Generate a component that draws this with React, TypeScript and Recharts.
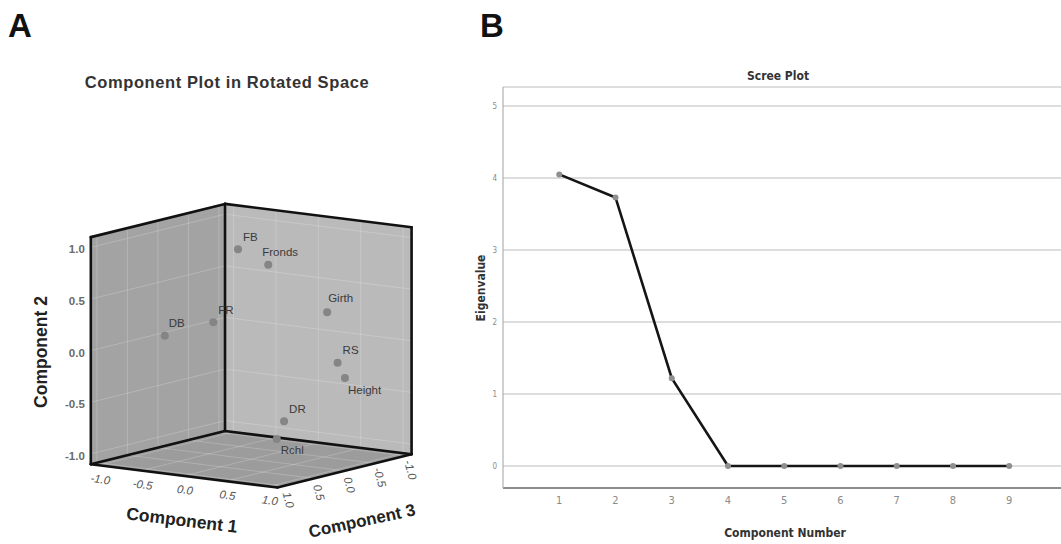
import React from 'react';
import {
  ComposedChart,
  Scatter,
  XAxis,
  YAxis,
  ReferenceArea,
  ReferenceLine,
  LineChart,
  Line,
  CartesianGrid,
} from 'recharts';

// ---------- Panel A data: rotated component loadings ----------
const variables = ['FB', 'Fronds', 'Girth', 'RS', 'Height', 'DR', 'Rchl', 'FR', 'DB'];
const component1 = [0.01, 0.41, 0.91, 0.99, 0.94, 0.69, 0.51, 0.2, -0.99];
const component2 = [0.97, 0.87, 0.42, -0.07, -0.25, -0.6, -0.81, 0.38, 0.0];
const component3 = [0.23, 0.29, 0.02, -0.04, -0.23, 0.42, 0.29, 0.9, 0.04];

const cubeTicks = [-1.0, -0.5, 0.0, 0.5, 1.0];
const cubeTickLabels = ['-1.0', '-0.5', '0.0', '0.5', '1.0'];

// ---------- Panel B data: scree plot ----------
const componentNumbers = [1, 2, 3, 4, 5, 6, 7, 8, 9];
const eigenvalues = [4.05, 3.73, 1.22, 0, 0, 0, 0, 0, 0];
const screeYTicks = [0, 1, 2, 3, 4, 5];

// ---------- view (oblique projection) ----------
const BOX = 1.1;
const E1 = [0.848, -0.106];
const E2 = [0, 1.032];
const E3 = [-0.61, -0.151];
const project = (c1: number, c2: number, c3: number) => ({
  u: c1 * E1[0] + c2 * E2[0] + c3 * E3[0],
  v: c1 * E1[1] + c2 * E2[1] + c3 * E3[1],
});

const labelPlacement: Record<string, { dx: number; dy: number }> = {
  FB: { dx: 5, dy: -12 },
  Fronds: { dx: -6, dy: -13 },
  Girth: { dx: 1, dy: -14 },
  RS: { dx: 5, dy: -13 },
  Height: { dx: 3, dy: 12 },
  DR: { dx: 5, dy: -12 },
  Rchl: { dx: 4, dy: 11 },
  FR: { dx: 5, dy: -12 },
  DB: { dx: 4, dy: -13 },
};

const pointData = variables.map((name, i) => ({
  name,
  ...project(component1[i], component2[i], component3[i]),
}));

const tickData = [
  ...cubeTicks.map((t, i) => ({ axis: 'c1', label: cubeTickLabels[i], ...project(t, -BOX, BOX) })),
  ...cubeTicks.map((t, i) => ({ axis: 'c2', label: cubeTickLabels[i], ...project(-BOX, t, BOX) })),
  ...cubeTicks.map((t, i) => ({ axis: 'c3', label: cubeTickLabels[i], ...project(BOX, -BOX, t) })),
];

const L = BOX;
const faces = [
  { key: 'left', fill: '#a3a3a3', corners: [[-L, -L, -L], [-L, -L, L], [-L, L, L], [-L, L, -L]] },
  { key: 'back', fill: '#bababa', corners: [[-L, -L, -L], [L, -L, -L], [L, L, -L], [-L, L, -L]] },
  { key: 'floor', fill: '#9c9c9c', corners: [[-L, -L, -L], [L, -L, -L], [L, -L, L], [-L, -L, L]] },
];

const edges: number[][][] = [
  [[-L, -L, L], [-L, L, L]],
  [[-L, L, L], [-L, L, -L]],
  [[-L, -L, -L], [-L, L, -L]],
  [[-L, L, -L], [L, L, -L]],
  [[L, -L, -L], [L, L, -L]],
  [[-L, -L, L], [L, -L, L]],
  [[L, -L, L], [L, -L, -L]],
  [[-L, -L, -L], [-L, -L, L]],
  [[-L, -L, -L], [L, -L, -L]],
];

const gridLines: number[][][] = [];
cubeTicks.forEach((t) => {
  // left wall (c1 = -L)
  gridLines.push([[-L, -L, t], [-L, L, t]]);
  gridLines.push([[-L, t, -L], [-L, t, L]]);
  // back wall (c3 = -L)
  gridLines.push([[t, -L, -L], [t, L, -L]]);
  gridLines.push([[-L, t, -L], [L, t, -L]]);
  // floor (c2 = -L)
  gridLines.push([[t, -L, -L], [t, -L, L]]);
  gridLines.push([[-L, -L, t], [L, -L, t]]);
});

const seg = (s: number[][]) => {
  const a = project(s[0][0], s[0][1], s[0][2]);
  const b = project(s[1][0], s[1][1], s[1][2]);
  return [
    { x: a.u, y: a.v },
    { x: b.u, y: b.v },
  ];
};

const faceShape = (corners: number[][], fill: string) => (props: any) => {
  const { x, y, width, height } = props;
  const pts = corners.map((c) => project(c[0], c[1], c[2]));
  const us = pts.map((p) => p.u);
  const vs = pts.map((p) => p.v);
  const u1 = Math.min(...us);
  const u2 = Math.max(...us);
  const v1 = Math.min(...vs);
  const v2 = Math.max(...vs);
  const str = pts
    .map((p) => `${x + ((p.u - u1) / (u2 - u1)) * width},${y + ((v2 - p.v) / (v2 - v1)) * height}`)
    .join(' ');
  return <polygon points={str} fill={fill} stroke="none" />;
};

const faceBox = (corners: number[][]) => {
  const pts = corners.map((c) => project(c[0], c[1], c[2]));
  return {
    x1: Math.min(...pts.map((p) => p.u)),
    x2: Math.max(...pts.map((p) => p.u)),
    y1: Math.min(...pts.map((p) => p.v)),
    y2: Math.max(...pts.map((p) => p.v)),
  };
};

const PointShape = (props: any) => {
  const { cx, cy, payload } = props;
  const lp = labelPlacement[payload.name] || { dx: 5, dy: -12 };
  return (
    <g>
      <circle cx={cx} cy={cy} r={4} fill="#858585" />
      <text
        x={cx + lp.dx}
        y={cy + lp.dy}
        dominantBaseline="central"
        fontSize={11.5}
        fill="#3a3a3a"
        fontFamily="'Liberation Sans', Arial, sans-serif"
      >
        {payload.name}
      </text>
    </g>
  );
};

const TickShape = (props: any) => {
  const { cx, cy, payload } = props;
  const common = {
    fontSize: 11.5,
    fill: '#555555',
    fontFamily: "'Liberation Sans', Arial, sans-serif",
    dominantBaseline: 'central' as const,
  };
  if (payload.axis === 'c2') {
    return (
      <text x={cx - 6} y={cy + 2} textAnchor="end" fontWeight="bold" {...common} fill="#6a6a6a">
        {payload.label}
      </text>
    );
  }
  if (payload.axis === 'c1') {
    const tx = cx + 1;
    const ty = cy + 14;
    return (
      <text x={tx} y={ty} textAnchor="middle" fontStyle="italic" transform={`rotate(8 ${tx} ${ty})`} {...common}>
        {payload.label}
      </text>
    );
  }
  const tx = cx + 5;
  const ty = cy + 14;
  return (
    <text x={tx} y={ty} textAnchor="middle" fontStyle="italic" transform={`rotate(75 ${tx} ${ty})`} {...common}>
      {payload.label}
    </text>
  );
};

const screeData = componentNumbers.map((n, i) => ({ n, e: eigenvalues[i] }));

const A_W = 460;
const A_H = 544;

export default function App() {
  return (
    <div
      style={{
        position: 'absolute',
        left: 0,
        top: 0,
        width: 1061,
        height: 544,
        overflow: 'hidden',
        background: '#ffffff',
      }}
    >
      <div style={{ position: 'absolute', left: 0, top: 0 }}>
        <ComposedChart width={A_W} height={A_H} margin={{ top: 0, right: 0, bottom: 0, left: 0 }}>
          <XAxis type="number" dataKey="u" domain={[-2.512, 2.088]} allowDataOverflow hide />
          <YAxis type="number" dataKey="v" domain={[-1.983, 3.457]} allowDataOverflow hide />
          {faces.map((f) => (
            <ReferenceArea
              key={f.key}
              {...faceBox(f.corners)}
              ifOverflow="visible"
              shape={faceShape(f.corners, f.fill)}
            />
          ))}
          {gridLines.map((g, i) => (
            <ReferenceLine
              key={'g' + i}
              segment={seg(g)}
              stroke="#ffffff"
              strokeOpacity={0.2}
              strokeWidth={1}
              ifOverflow="visible"
            />
          ))}
          {edges.map((e, i) => (
            <ReferenceLine
              key={'e' + i}
              segment={seg(e)}
              stroke="#111111"
              strokeWidth={2.6}
              strokeLinecap="round"
              ifOverflow="visible"
            />
          ))}
          <Scatter data={tickData} dataKey="v" shape={TickShape} isAnimationActive={false} />
          <Scatter data={pointData} dataKey="v" shape={PointShape} isAnimationActive={false} />
        </ComposedChart>
      </div>

      <div style={{ position: 'absolute', left: 440, top: 0 }}>
        <LineChart width={621} height={544} data={screeData} margin={{ top: 87, right: 0, bottom: 26, left: 33 }}>
          <CartesianGrid vertical={false} stroke="#d2d2d2" strokeWidth={1.5} />
          <XAxis
            dataKey="n"
            type="number"
            domain={[0, 9.92]}
            ticks={componentNumbers}
            allowDataOverflow
            interval={0}
            tickLine={false}
            axisLine={{ stroke: '#8c8c8c', strokeWidth: 2 }}
            height={30}
            tick={{ fontSize: 11, fill: '#8a8a8a', fontFamily: "'Liberation Sans Narrow', 'DejaVu Sans Condensed', sans-serif" }}
          />
          <YAxis
            type="number"
            domain={[-0.306, 5.264]}
            ticks={screeYTicks}
            allowDataOverflow
            width={30}
            tickLine={false}
            tickSize={0}
            tickMargin={6}
            axisLine={{ stroke: '#b0b0b0', strokeWidth: 1.2 }}
            tick={{ fontSize: 8, fill: '#8a8a8a', fontFamily: "'Liberation Sans Narrow', 'DejaVu Sans Condensed', sans-serif" }}
          />
          <Line
            dataKey="e"
            stroke="#151515"
            strokeWidth={2.6}
            dot={{ r: 3, fill: '#8f8f8f', stroke: 'none' }}
            isAnimationActive={false}
          />
        </LineChart>
      </div>

      <svg
        width={1061}
        height={544}
        style={{ position: 'absolute', left: 0, top: 0, pointerEvents: 'none' }}
      >
        <g fontFamily="'Liberation Sans', Arial, sans-serif" fontWeight="bold" fill="#111111">
          <text x={8} y={37} fontSize={33}>A</text>
          <text x={480} y={37} fontSize={33}>B</text>
        </g>
        <g fontFamily="'Liberation Sans', Arial, sans-serif" fontWeight="bold" fill="#333333">
          <text x={227} y={82} fontSize={16.5} letterSpacing={0.6} textAnchor="middle" dominantBaseline="central">
            Component Plot in Rotated Space
          </text>
          <text
            x={41}
            y={352}
            fontSize={17.5}
            textAnchor="middle"
            dominantBaseline="central"
            transform="rotate(-90 41 352)"
            fill="#222"
          >
            Component 2
          </text>
          <text
            x={182}
            y={520}
            fontSize={17.5}
            textAnchor="middle"
            dominantBaseline="central"
            transform="rotate(7 182 520)"
            fill="#222"
          >
            Component 1
          </text>
          <text
            x={362}
            y={521}
            fontSize={17}
            textAnchor="middle"
            dominantBaseline="central"
            transform="rotate(-12 362 521)"
            fill="#222"
          >
            Component 3
          </text>
        </g>
        <g
          fontFamily="'Liberation Sans Narrow', 'DejaVu Sans Condensed', sans-serif"
          fontWeight="bold"
          fill="#333333"
        >
          <text x={778} y={76} fontSize={12} textAnchor="middle" dominantBaseline="central">
            Scree Plot
          </text>
          <text
            x={481}
            y={288}
            fontSize={12}
            textAnchor="middle"
            dominantBaseline="central"
            transform="rotate(-90 481 288)"
          >
            Eigenvalue
          </text>
          <text x={785} y={533} fontSize={12} textAnchor="middle" dominantBaseline="central">
            Component Number
          </text>
        </g>
      </svg>
    </div>
  );
}
